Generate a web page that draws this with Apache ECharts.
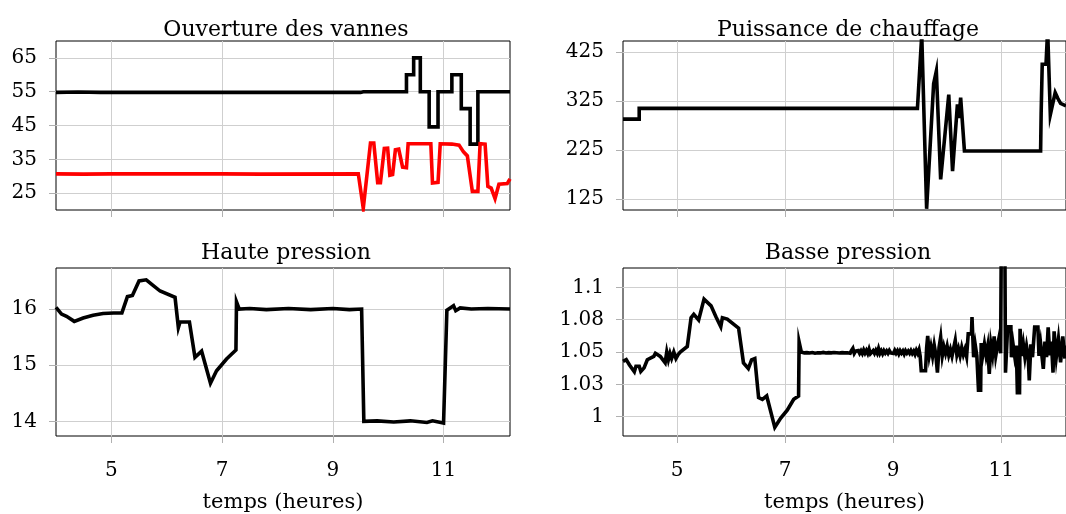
<!DOCTYPE html>
<html>
<head>
<meta charset="utf-8">
<title>Ouverture des vannes / chauffage / pressions</title>
<script src="https://cdn.jsdelivr.net/npm/echarts@6/dist/echarts.min.js"></script>
<style>
  html, body { margin: 0; padding: 0; background: #fff; }
  #main { width: 1066px; height: 514px; }
</style>
</head>
<body>
<div id="main"></div>
<script>
// axes
var xTicks = [5, 7, 9, 11];
var vanneTicks = [25, 35, 45, 55, 65];
var chauffTicks = [125, 225, 325, 425];
var hauteTicks = [14, 15, 16];
var basseTicks = [1, 1.025, 1.05, 1.075, 1.1];
var basseLabels = ['1', '1.03', '1.05', '1.08', '1.1'];

// ouverture vanne (noir) [heure, %]
var vanneNoire = [[4, 54.8], [4.4, 54.9], [4.8, 54.8], [9.5, 54.8], [9.55, 55], [10.33, 55], [10.33, 60], [10.46, 60], [10.46, 65],
  [10.58, 65], [10.58, 55], [10.74, 55], [10.74, 44.6], [10.9, 44.6], [10.9, 55], [11.15, 55], [11.15, 60], [11.32, 60],
  [11.32, 50], [11.48, 50], [11.48, 39.5], [11.62, 39.5], [11.62, 55], [12.2, 55]];
// ouverture vanne (rouge)
var vanneRouge = [[4, 30.7], [4.5, 30.6], [5, 30.7], [7, 30.7], [7.7, 30.6], [9.46, 30.7], [9.55, 20.5], [9.68, 39.8], [9.74, 39.8],
  [9.81, 28.1], [9.86, 28.1], [9.93, 38.2], [9.99, 38.3], [10.03, 30.3], [10.08, 30.5], [10.13, 37.8], [10.19, 38],
  [10.26, 32.7], [10.33, 32.5], [10.36, 39.6], [10.77, 39.6], [10.8, 28], [10.9, 28.2], [10.94, 39.6], [11.15, 39.5],
  [11.28, 39.2], [11.36, 37.2], [11.43, 36], [11.46, 35.5], [11.52, 25.5], [11.62, 25.5], [11.66, 39.6], [11.75, 39.5],
  [11.8, 27], [11.86, 26.5], [11.93, 23.4], [12, 27.6], [12.15, 27.8], [12.2, 29.2]];

// puissance de chauffage
var chauffage = [[4, 288], [4.3, 288], [4.3, 310], [9.45, 310], [9.53, 460], [9.62, 105], [9.75, 360], [9.8, 386],
  [9.88, 165], [10.03, 338], [10.1, 182], [10.19, 318], [10.22, 290], [10.25, 332], [10.32, 223], [11.73, 223],
  [11.74, 300], [11.76, 400], [11.83, 400], [11.86, 470], [11.91, 297], [12, 342], [12.05, 330], [12.1, 320], [12.2, 315]];

// haute pression
var haute = [[4, 16.03], [4.1, 15.91], [4.19, 15.87], [4.33, 15.78], [4.49, 15.84], [4.67, 15.89], [4.85, 15.92],
  [5.04, 15.93], [5.19, 15.93], [5.29, 16.22], [5.38, 16.24], [5.5, 16.5], [5.63, 16.52], [5.73, 16.44], [5.88, 16.32],
  [6.15, 16.21], [6.21, 15.67], [6.24, 15.77], [6.41, 15.77], [6.51, 15.14], [6.63, 15.25], [6.79, 14.68], [6.9, 14.9],
  [7.08, 15.11], [7.25, 15.27], [7.26, 16.13], [7.31, 16], [7.5, 16.01], [7.8, 15.99], [8.2, 16.01], [8.6, 15.99],
  [9, 16.01], [9.3, 15.99], [9.52, 16], [9.56, 14], [9.8, 14.01], [10.1, 13.99], [10.4, 14.01], [10.7, 13.98],
  [10.8, 14.01], [11, 13.97], [11.02, 14], [11.06, 15.98], [11.12, 16.02], [11.18, 16.06], [11.22, 15.97],
  [11.3, 16.02], [11.5, 16], [11.8, 16.01], [12.2, 16]];

// basse pression
var basse = [[4, 1.0428], [4.06, 1.0441], [4.12, 1.04], [4.21, 1.0347], [4.24, 1.039], [4.3, 1.039], [4.33, 1.035],
  [4.39, 1.0377], [4.45, 1.044], [4.57, 1.0466], [4.6, 1.049], [4.69, 1.0466], [4.78, 1.0416], [4.81, 1.05],
  [4.84, 1.044], [4.87, 1.049], [4.9, 1.045], [4.94, 1.05], [4.98, 1.045], [5.02, 1.048], [5.06, 1.05],
  [5.19, 1.0543], [5.26, 1.0765], [5.31, 1.0791], [5.4, 1.0748], [5.5, 1.0909], [5.63, 1.0857], [5.72, 1.0773],
  [5.81, 1.0696], [5.84, 1.0765], [5.93, 1.0755], [6.14, 1.0684], [6.23, 1.0416], [6.32, 1.0372], [6.38, 1.044],
  [6.44, 1.045], [6.51, 1.0147], [6.58, 1.0134], [6.66, 1.016], [6.81, 0.9917], [6.92, 0.9989], [7.04, 1.005],
  [7.16, 1.0134], [7.25, 1.016], [7.26, 1.0577], [7.3, 1.05],
  [7.33, 1.0508], [7.355, 1.0493], [7.38, 1.0506], [7.405, 1.0495], [7.43, 1.0509], [7.455, 1.0492], [7.48, 1.0505],
  [7.505, 1.0496], [7.53, 1.0507], [7.555, 1.0491], [7.58, 1.0504], [7.605, 1.0494], [7.63, 1.0508], [7.655, 1.0493],
  [7.68, 1.0505], [7.705, 1.0497], [7.73, 1.0506], [7.755, 1.0492], [7.78, 1.0507], [7.805, 1.0495], [7.83, 1.0504],
  [7.855, 1.0493], [7.88, 1.0506], [7.905, 1.0496], [7.93, 1.0505], [7.955, 1.0494], [7.98, 1.0508], [8.005, 1.0492],
  [8.03, 1.0505], [8.055, 1.0495], [8.08, 1.0507], [8.105, 1.0493], [8.13, 1.0506], [8.155, 1.0494], [8.18, 1.0509],
  [8.205, 1.0491], [8.23, 1.0512], [8.255, 1.0528], [8.28, 1.0489], [8.305, 1.0507], [8.33, 1.0492], [8.355, 1.0511],
  [8.38, 1.049], [8.405, 1.0509], [8.43, 1.0488], [8.455, 1.0516], [8.48, 1.0492], [8.505, 1.0512], [8.53, 1.0489],
  [8.555, 1.0522], [8.58, 1.0487], [8.605, 1.0482], [8.63, 1.051], [8.655, 1.049], [8.68, 1.0513], [8.705, 1.0491],
  [8.73, 1.0527], [8.755, 1.0489], [8.78, 1.0509], [8.805, 1.0486], [8.83, 1.051], [8.855, 1.0492], [8.88, 1.0508],
  [8.905, 1.049], [8.93, 1.0511], [8.955, 1.0493], [8.98, 1.0507], [9.005, 1.0489], [9.03, 1.0512], [9.055, 1.0491],
  [9.08, 1.0509], [9.105, 1.0485], [9.13, 1.051], [9.155, 1.0492], [9.18, 1.0508], [9.205, 1.0484], [9.23, 1.0509],
  [9.255, 1.0491], [9.28, 1.0507], [9.305, 1.049], [9.33, 1.0511], [9.355, 1.0489], [9.38, 1.0506], [9.405, 1.0482],
  [9.43, 1.0513], [9.455, 1.049], [9.48, 1.0518],
  [9.5, 1.047], [9.52, 1.0355], [9.6, 1.0355], [9.62, 1.053], [9.64, 1.0625], [9.67, 1.0475],
  [9.7, 1.054], [9.73, 1.0468], [9.76, 1.0555], [9.79, 1.048], [9.82, 1.034], [9.85, 1.0535], [9.88, 1.0615],
  [9.91, 1.047], [9.94, 1.054], [9.97, 1.049], [10, 1.0545], [10.03, 1.0475], [10.06, 1.052], [10.09, 1.0468],
  [10.12, 1.053], [10.15, 1.059], [10.18, 1.0478], [10.21, 1.0525], [10.24, 1.047], [10.27, 1.0535], [10.3, 1.048],
  [10.33, 1.052], [10.36, 1.0465], [10.39, 1.064], [10.45, 1.064], [10.46, 1.077], [10.49, 1.046], [10.52, 1.0555],
  [10.55, 1.047], [10.58, 1.0205], [10.62, 1.0205], [10.63, 1.057], [10.66, 1.048], [10.69, 1.056], [10.72, 1.0475],
  [10.75, 1.0545], [10.78, 1.033], [10.81, 1.056], [10.84, 1.048], [10.87, 1.062], [10.9, 1.047], [10.93, 1.0545],
  [10.96, 1.061], [10.99, 1.049], [11, 1.12], [11.07, 1.12], [11.08, 1.034], [11.11, 1.034], [11.12, 1.0695],
  [11.18, 1.0695], [11.19, 1.046], [11.22, 1.056], [11.25, 1.047], [11.28, 1.055], [11.3, 1.0185], [11.34, 1.0185],
  [11.35, 1.068], [11.38, 1.047], [11.41, 1.056], [11.44, 1.046], [11.47, 1.0545], [11.5, 1.047], [11.52, 1.028],
  [11.55, 1.056], [11.58, 1.046], [11.62, 1.0693], [11.68, 1.0693], [11.7, 1.047], [11.73, 1.0565], [11.76, 1.045],
  [11.78, 1.037], [11.81, 1.058], [11.84, 1.046], [11.87, 1.069], [11.9, 1.0475], [11.93, 1.058], [11.96, 1.034],
  [11.98, 1.066], [12.02, 1.046], [12.06, 1.06], [12.1, 1.042], [12.14, 1.062], [12.18, 1.045], [12.2, 1.055]];

var serif = 'DejaVu Serif';
var gridW = 454, gridH = 169;

function xAxe(idx, showLabels) {
  return {
    type: 'value', gridIndex: idx, min: 4, max: 12.2,
    name: showLabels ? 'temps (heures)' : '',
    nameLocation: 'middle', nameGap: 56,
    nameTextStyle: { fontFamily: serif, fontSize: 21, color: '#000' },
    axisLine: { show: false },
    axisTick: { show: true, inside: false, length: 7, customValues: xTicks, lineStyle: { color: '#b0b0b0' } },
    axisLabel: { show: showLabels, customValues: xTicks, margin: 25, fontFamily: serif, fontSize: 20, color: '#000' },
    splitLine: { show: true, lineStyle: { color: '#cfcfcf', width: 1 } }
  };
}

function yAxe(idx, min, max, ticks, labels) {
  return {
    type: 'value', gridIndex: idx, min: min, max: max,
    axisLine: { show: false },
    axisTick: { show: true, inside: false, length: 7, customValues: ticks, lineStyle: { color: '#b0b0b0' } },
    axisLabel: {
      customValues: ticks, margin: 19, fontFamily: serif, fontSize: 20, color: '#000',
      formatter: function (v) {
        if (labels) return labels[ticks.indexOf(v)];
        return String(v);
      }
    },
    splitLine: { show: true, lineStyle: { color: '#cfcfcf', width: 1 } }
  };
}

function serie(idx, data, color) {
  return {
    type: 'line', xAxisIndex: idx, yAxisIndex: idx, data: data,
    showSymbol: false, symbol: 'none', clip: true,
    lineStyle: { color: color, width: 3.6, join: 'miter' },
    itemStyle: { color: color }
  };
}

var grille = { show: true, borderColor: '#000', borderWidth: 1, backgroundColor: 'transparent', width: gridW, height: gridH };

var myChart = echarts.init(document.getElementById('main'));
var option = {
  animation: false,
  backgroundColor: '#fff',
  title: [
    { text: 'Ouverture des vannes', left: 281, top: 14, textAlign: 'center' },
    { text: 'Puissance de chauffage', left: 843, top: 14, textAlign: 'center' },
    { text: 'Haute pression', left: 281, top: 237, textAlign: 'center' },
    { text: 'Basse pression', left: 843, top: 237, textAlign: 'center' }
  ].map(function (t) {
    t.textStyle = { fontFamily: serif, fontSize: 22, fontWeight: 'normal', color: '#000' };
    return t;
  }),
  grid: [
    Object.assign({ left: 56, top: 41 }, grille),
    Object.assign({ left: 623, top: 41 }, grille),
    Object.assign({ left: 56, top: 268 }, grille),
    Object.assign({ left: 623, top: 268 }, grille)
  ],
  xAxis: [xAxe(0, false), xAxe(1, false), xAxe(2, true), xAxe(3, true)],
  yAxis: [
    yAxe(0, 20, 70, vanneTicks),
    yAxe(1, 102.5, 447.5, chauffTicks),
    yAxe(2, 13.74, 16.73, hauteTicks),
    yAxe(3, 0.985, 1.115, basseTicks, basseLabels)
  ],
  series: [
    serie(0, vanneNoire, '#000'),
    serie(0, vanneRouge, '#ff0000'),
    serie(1, chauffage, '#000'),
    serie(2, haute, '#000'),
    serie(3, basse, '#000')
  ]
};
myChart.setOption(option);
</script>
</body>
</html>
